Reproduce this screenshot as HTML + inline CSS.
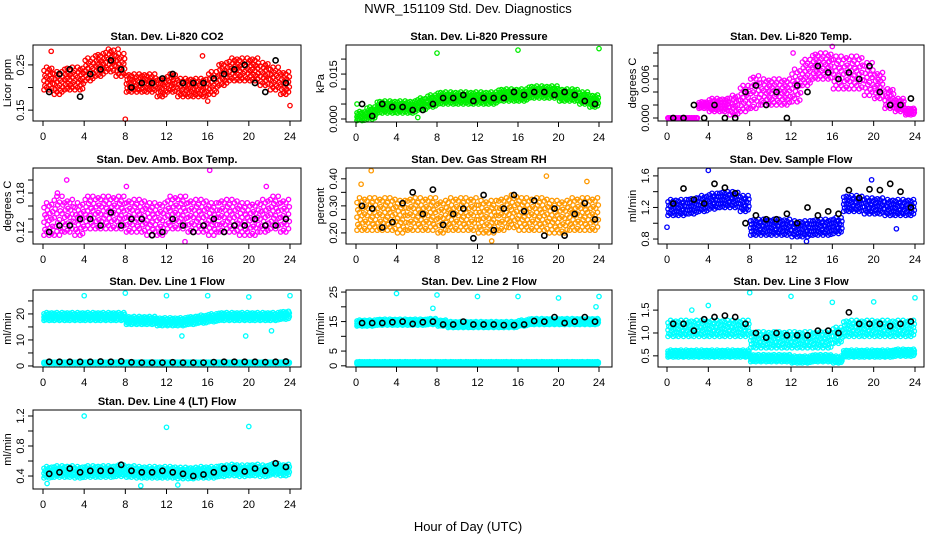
<!DOCTYPE html>
<html><head><meta charset="utf-8"><style>
body{margin:0;background:#fff}
svg{display:block;font-family:"Liberation Sans",sans-serif}
</style></head><body>
<svg id="c" width="936" height="540" viewBox="0 0 936 540">
<text x="468" y="13" text-anchor="middle" font-size="13">NWR_151109  Std. Dev. Diagnostics</text>
<text x="468" y="531" text-anchor="middle" font-size="13">Hour of Day (UTC)</text>
</svg>
<script>
// ---- data (hourly estimates) ----
const hours = [0,1,2,3,4,5,6,7,8,9,10,11,12,13,14,15,16,17,18,19,20,21,22,23];
const xTicks = [0,4,8,12,16,20,24];

const co2Center = [0.22,0.21,0.22,0.22,0.24,0.25,0.26,0.25,0.21,0.21,0.21,0.20,0.21,0.20,0.20,0.20,0.21,0.23,0.24,0.24,0.24,0.23,0.22,0.21];
const co2Spread = [0.05,0.05,0.05,0.05,0.05,0.05,0.05,0.05,0.04,0.04,0.04,0.04,0.04,0.04,0.04,0.04,0.05,0.05,0.05,0.05,0.05,0.05,0.05,0.05];
const co2Black = [0.19,0.23,0.24,0.18,0.23,0.24,0.26,0.24,0.20,0.21,0.21,0.22,0.23,0.21,0.21,0.21,0.22,0.23,0.24,0.25,0.21,0.19,0.26,0.21];
const co2Out = [[0.8,0.28],[8,0.13],[7.3,0.285],[24,0.16],[15.5,0.27],[16,0.17]];

const presCenter = [0.001,0.002,0.004,0.004,0.004,0.004,0.005,0.006,0.007,0.007,0.007,0.007,0.007,0.007,0.008,0.008,0.008,0.009,0.009,0.009,0.008,0.008,0.007,0.006];
const presSpread = [0.003,0.004,0.004,0.004,0.004,0.004,0.004,0.004,0.004,0.004,0.004,0.004,0.004,0.004,0.004,0.004,0.004,0.004,0.004,0.004,0.004,0.004,0.004,0.004];
const presBlack = [0.005,0.001,0.005,0.004,0.004,0.003,0.003,0.005,0.007,0.007,0.008,0.006,0.007,0.007,0.007,0.009,0.008,0.009,0.009,0.008,0.009,0.008,0.006,0.005];
const presOut = [[8,0.022],[16,0.023],[24,0.0235],[0.1,0.005],[6.1,0.0005]];

const tempCenter = [0,0,0,0.002,0.002,0.002,0.002,0.003,0.004,0.004,0.004,0.004,0.005,0.007,0.008,0.008,0.007,0.007,0.007,0.006,0.005,0.003,0.002,0.001];
const tempSpread = [0,0,0,0.001,0.002,0.002,0.003,0.004,0.005,0.004,0.004,0.004,0.005,0.004,0.004,0.004,0.005,0.005,0.005,0.005,0.004,0.003,0.002,0.001];
const tempBlack = [0,0,0.002,0,0.002,0,0,0.004,0.005,0.002,0.004,0,0.005,0.004,0.008,0.007,0.006,0.007,0.006,0.008,0.004,0.002,0.002,0.003];
const tempOut = [[16,0.011],[12.2,0.010]];

const boxCenter = [0.14,0.145,0.145,0.14,0.15,0.15,0.15,0.15,0.145,0.145,0.14,0.14,0.15,0.15,0.145,0.145,0.14,0.145,0.145,0.14,0.14,0.145,0.15,0.145];
const boxSpread = [0.05,0.06,0.05,0.05,0.05,0.05,0.05,0.05,0.05,0.05,0.05,0.05,0.05,0.05,0.05,0.05,0.05,0.05,0.05,0.05,0.05,0.05,0.05,0.05];
const boxBlack = [0.12,0.13,0.13,0.14,0.14,0.13,0.15,0.13,0.14,0.14,0.115,0.12,0.14,0.13,0.12,0.13,0.14,0.12,0.13,0.13,0.14,0.13,0.13,0.14];
const boxOut = [[16.2,0.215],[2.3,0.2],[1.4,0.18],[13.8,0.105],[8.1,0.19],[21.7,0.19]];

const rhCenter = [0.27,0.27,0.27,0.27,0.26,0.27,0.27,0.27,0.26,0.27,0.27,0.27,0.26,0.26,0.27,0.28,0.27,0.27,0.27,0.26,0.26,0.27,0.27,0.27];
const rhSpread = [0.12,0.12,0.12,0.12,0.12,0.12,0.12,0.12,0.12,0.12,0.12,0.12,0.12,0.12,0.12,0.12,0.12,0.12,0.12,0.12,0.12,0.12,0.12,0.12];
const rhBlack = [0.30,0.29,0.22,0.24,0.31,0.35,0.27,0.36,0.23,0.27,0.29,0.18,0.34,0.21,0.29,0.34,0.28,0.32,0.19,0.29,0.19,0.27,0.31,0.25];
const rhOut = [[1.5,0.43],[0.5,0.38],[18.8,0.41],[22.8,0.39],[13.4,0.17]];

const flowCenter = [1.2,1.2,1.22,1.25,1.28,1.3,1.3,1.25,0.95,0.95,0.95,0.95,0.93,0.93,0.95,0.95,0.97,1.25,1.25,1.22,1.22,1.2,1.2,1.2];
const flowSpread = [0.2,0.2,0.2,0.2,0.2,0.2,0.2,0.2,0.2,0.2,0.2,0.2,0.2,0.2,0.2,0.2,0.2,0.2,0.2,0.2,0.2,0.2,0.2,0.2];
const flowBlack = [1.25,1.44,1.3,1.25,1.5,1.45,1.38,1.0,1.1,1.05,1.05,1.12,1.0,1.2,1.1,1.15,1.12,1.42,1.32,1.43,1.42,1.5,1.4,1.2];
const flowOut = [[4,1.67],[0,0.95],[19.8,1.55],[13.5,0.77],[22.2,0.93]];

const l1Center = [19,19,19,19,19,19,19,19,17.5,17.5,17.5,17,17,17,17.5,18,18.5,19,19,19,19,19,19,19.5];
const l1Spread = [3,3,3,3,3,3,3,3,3,3,3,3,3,3,3,3,3,3,3,3,3,3,3,3];
const l1LowCenter = [1.2,1.2,1.2,1.2,1.2,1.2,1.2,1.2,1.2,1.2,1.2,1.2,1.2,1.2,1.2,1.2,1.2,1.2,1.2,1.2,1.2,1.2,1.2,1.2];
const l1LowSpread = [0.6,0.6,0.6,0.6,0.6,0.6,0.6,0.6,0.6,0.6,0.6,0.6,0.6,0.6,0.6,0.6,0.6,0.6,0.6,0.6,0.6,0.6,0.6,0.6];
const l1Black = [1.6,1.6,1.6,1.6,1.6,1.7,1.6,1.8,1.4,1.3,1.3,1.3,1.4,1.3,1.3,1.3,1.5,1.6,1.6,1.6,1.6,1.5,1.6,1.7];
const l1Out = [[4,27],[8,28],[12,27],[16,27],[19.7,11.5],[13.5,11.5],[22.2,13.5],[24,27],[20,26.5]];

const l2Center = [14.5,14.5,14.8,14.8,14.8,14.8,14.8,15,14.5,14,14,14,14,14,14,14,14.5,15,15,15,15,15,15,15];
const l2Spread = [2,2,2,2,2,2,2,2,2,2,2,2,2,2,2,2,2,2,2,2,2,2,2,2];
const l2LowCenter = [1,1,1,1,1,1,1,1,1,1,1,1,1,1,1,1,1,1,1,1,1,1,1,1];
const l2LowSpread = [0.8,0.8,0.8,0.8,0.8,0.8,0.8,0.8,0.8,0.8,0.8,0.8,0.8,0.8,0.8,0.8,0.8,0.8,0.8,0.8,0.8,0.8,0.8,0.8];
const l2Black = [14.5,14.5,14.5,14.8,15,14.2,14.8,15,14,14,15,14,14,14,13.8,13.8,14,15.2,15,16.5,14.5,15,16.5,15];
const l2Out = [[4,24.5],[8,24],[12,23.5],[16,23.5],[20,23],[24,23.5],[7.6,19.5],[23.7,20]];

const l3Center = [1.1,1.1,1.1,1.1,1.1,1.1,1.1,1.1,0.85,0.85,0.85,0.85,0.85,0.85,0.85,0.85,0.95,1.1,1.1,1.1,1.1,1.1,1.1,1.1];
const l3Spread = [0.35,0.35,0.35,0.35,0.35,0.35,0.35,0.35,0.35,0.35,0.35,0.35,0.35,0.35,0.35,0.35,0.35,0.35,0.35,0.35,0.35,0.35,0.35,0.35];
const l3LowCenter = [0.55,0.55,0.55,0.55,0.55,0.55,0.55,0.55,0.45,0.45,0.45,0.45,0.42,0.42,0.45,0.45,0.42,0.55,0.55,0.55,0.55,0.55,0.57,0.57];
const l3LowSpread = [0.15,0.15,0.15,0.15,0.15,0.15,0.15,0.15,0.15,0.15,0.15,0.15,0.15,0.15,0.15,0.15,0.15,0.15,0.15,0.15,0.15,0.15,0.15,0.15];
const l3Black = [1.2,1.2,1.05,1.3,1.35,1.38,1.35,1.2,1.0,0.9,1.0,0.95,0.95,0.95,1.05,1.05,1.0,1.45,1.2,1.2,1.2,1.15,1.2,1.25];
const l3Out = [[8,1.88],[12,1.8],[16,1.67],[20,1.68],[24,1.77],[4,1.6],[2.4,1.5]];

const l4Center = [0.45,0.46,0.46,0.45,0.46,0.46,0.46,0.47,0.46,0.45,0.45,0.45,0.45,0.44,0.44,0.45,0.45,0.47,0.48,0.47,0.48,0.47,0.49,0.48];
const l4Spread = [0.15,0.15,0.15,0.15,0.15,0.15,0.15,0.15,0.15,0.15,0.15,0.15,0.15,0.15,0.15,0.15,0.15,0.15,0.15,0.15,0.15,0.15,0.15,0.15];
const l4Black = [0.43,0.45,0.5,0.45,0.47,0.47,0.47,0.55,0.47,0.45,0.45,0.47,0.45,0.43,0.4,0.42,0.45,0.5,0.5,0.46,0.5,0.47,0.57,0.52];
const l4Out = [[4,1.2],[12,1.05],[20,1.06],[9.5,0.27],[13.1,0.28],[0.4,0.3]];

const svg = document.getElementById('c');
const NS = 'http://www.w3.org/2000/svg';
function mk(tag, attrs, parent){const e=document.createElementNS(NS,tag);for(const k in attrs)e.setAttribute(k,attrs[k]);(parent||svg).appendChild(e);return e;}

const panels = [
 {slug:'co2',title:'Stan. Dev. Li-820 CO2',ylab:'Licor ppm',box:[33,45,301,121],x0:43,x1:290,dom:[0.126,0.294],ticks:[0.15,0.20,0.25],labels:['0.15','','0.25'],color:'#ff0000',bands:[[co2Center,co2Spread]],black:co2Black,out:co2Out},
 {slug:'pressure',title:'Stan. Dev. Li-820 Pressure',ylab:'kPa',box:[346,45,612,122],x0:356,x1:599,dom:[-0.001,0.0247],ticks:[0,0.005,0.01,0.015,0.02],labels:['0.000','','','0.015',''],color:'#00ee00',bands:[[presCenter,presSpread]],black:presBlack,out:presOut},
 {slug:'temp',title:'Stan. Dev. Li-820 Temp.',ylab:'degrees C',box:[658,45,924,121],x0:667,x1:915,dom:[-0.00046,0.01123],ticks:[0,0.002,0.004,0.006,0.008,0.01],labels:['0.000','','','0.006','',''],color:'#ff00ff',bands:[[tempCenter,tempSpread]],black:tempBlack,out:tempOut},
 {slug:'amb-box-temp',title:'Stan. Dev. Amb. Box Temp.',ylab:'degrees C',box:[33,168,301,244],x0:43,x1:290,dom:[0.1015,0.2185],ticks:[0.12,0.14,0.16,0.18,0.20],labels:['0.12','','','0.18',''],color:'#ff00ff',bands:[[boxCenter,boxSpread]],black:boxBlack,out:boxOut},
 {slug:'gas-rh',title:'Stan. Dev. Gas Stream RH',ylab:'percent',box:[346,168,612,244],x0:356,x1:599,dom:[0.159,0.44],ticks:[0.20,0.25,0.30,0.35,0.40],labels:['0.20','','0.30','','0.40'],color:'#ff9900',bands:[[rhCenter,rhSpread]],black:rhBlack,out:rhOut},
 {slug:'sample-flow',title:'Stan. Dev. Sample Flow',ylab:'ml/min',box:[658,168,924,244],x0:667,x1:915,dom:[0.737,1.70],ticks:[0.8,1.0,1.2,1.4,1.6],labels:['0.8','','1.2','','1.6'],color:'#0000ff',bands:[[flowCenter,flowSpread]],black:flowBlack,out:flowOut},
 {slug:'line1-flow',title:'Stan. Dev. Line 1 Flow',ylab:'ml/min',box:[33,290,301,367],x0:43,x1:290,dom:[-0.4,29.2],ticks:[0,5,10,15,20,25],labels:['0','','10','','20',''],color:'#00ffff',bands:[[l1Center,l1Spread],[l1LowCenter,l1LowSpread]],black:l1Black,out:l1Out},
 {slug:'line2-flow',title:'Stan. Dev. Line 2 Flow',ylab:'ml/min',box:[346,290,612,367],x0:356,x1:599,dom:[-0.4,25.7],ticks:[0,5,10,15,20,25],labels:['0','5','','15','','25'],color:'#00ffff',bands:[[l2Center,l2Spread],[l2LowCenter,l2LowSpread]],black:l2Black,out:l2Out},
 {slug:'line3-flow',title:'Stan. Dev. Line 3 Flow',ylab:'ml/min',box:[658,290,924,367],x0:667,x1:915,dom:[0.256,1.94],ticks:[0.5,1.0,1.5],labels:['0.5','1.0','1.5'],color:'#00ffff',bands:[[l3Center,l3Spread],[l3LowCenter,l3LowSpread]],black:l3Black,out:l3Out},
 {slug:'line4-flow',title:'Stan. Dev. Line 4 (LT) Flow',ylab:'ml/min',box:[33,410,301,489],x0:43,x1:290,dom:[0.227,1.28],ticks:[0.4,0.6,0.8,1.0,1.2],labels:['0.4','','0.8','','1.2'],color:'#00ffff',bands:[[l4Center,l4Spread]],black:l4Black,out:l4Out}
];

const subX = [0.1,0.35,0.6,0.85];
const subY = [-1,-0.55,-0.1,0.35,0.8];

panels.forEach(p=>{
  const [L,T,R,B]=p.box;
  const g = mk('g',{});
  
  
  const xs = h => p.x0 + (p.x1-p.x0)*h/24;
  const ys = v => B - (v-p.dom[0])/(p.dom[1]-p.dom[0])*(B-T);
  const t = mk('text',{x:(L+R)/2,y:T-5,'text-anchor':'middle','font-size':'11','font-weight':'bold'},g);
  t.textContent = p.title;
  
  
  const marks = mk('g',{fill:'none','stroke-width':'1.3'},g);
  
  
  p.bands.forEach(([cen,spr])=>{
    hours.forEach((h,i)=>{
      subX.forEach((dx,j)=>{
        subY.forEach((k,m)=>{
          const kk = k + (j%2 ? 0.2 : 0) + ((i+j)%3===0 ? -0.1 : 0);
          const v = cen[i] + Math.max(-1,Math.min(1,kk))*spr[i]/2;
          mk('circle',{cx:xs(h+dx+(m%2?0.08:0)).toFixed(1),cy:ys(v).toFixed(1),r:2.2,stroke:p.color},marks);
        });
      });
    });
  });
  p.out.forEach(([h,v])=>{
    mk('circle',{cx:xs(h).toFixed(1),cy:ys(v).toFixed(1),r:2.2,stroke:p.color},marks);
  });
  hours.forEach((h,i)=>{
    mk('circle',{cx:xs(h+0.6).toFixed(1),cy:ys(p.black[i]).toFixed(1),r:2.6,stroke:'#000','stroke-width':'1.6'},marks);
  });
  const box = mk('rect',{x:L,y:T,width:R-L,height:B-T,fill:'none',stroke:'#000','stroke-width':'1'},g);
  
  
  const xa = mk('g',{'font-size':'11'},g);
  
  
  mk('line',{x1:xs(0),x2:xs(24),y1:B,y2:B,stroke:'#000'},xa);
  xTicks.forEach(h=>{
    mk('line',{x1:xs(h),x2:xs(h),y1:B,y2:B+5,stroke:'#000'},xa);
    const tl = mk('text',{x:xs(h),y:B+19,'text-anchor':'middle'},xa);
    tl.textContent = h;
  });
  const ya = mk('g',{'font-size':'11'},g);
  
  
  p.ticks.forEach((v,i)=>{
    const y = ys(v);
    mk('line',{x1:L-5,x2:L,y1:y,y2:y,stroke:'#000'},ya);
    if(p.labels[i]){
      const tl = mk('text',{x:L-9,y:y,'text-anchor':'middle',transform:`rotate(-90 ${L-9} ${y})`},ya);
      tl.textContent = p.labels[i];
    }
  });
  const yl = mk('text',{x:L-22,y:(T+B)/2,'text-anchor':'middle','font-size':'11',transform:`rotate(-90 ${L-22} ${(T+B)/2})`},g);
  yl.textContent = p.ylab;
  
  
});
</script>
</body></html>
